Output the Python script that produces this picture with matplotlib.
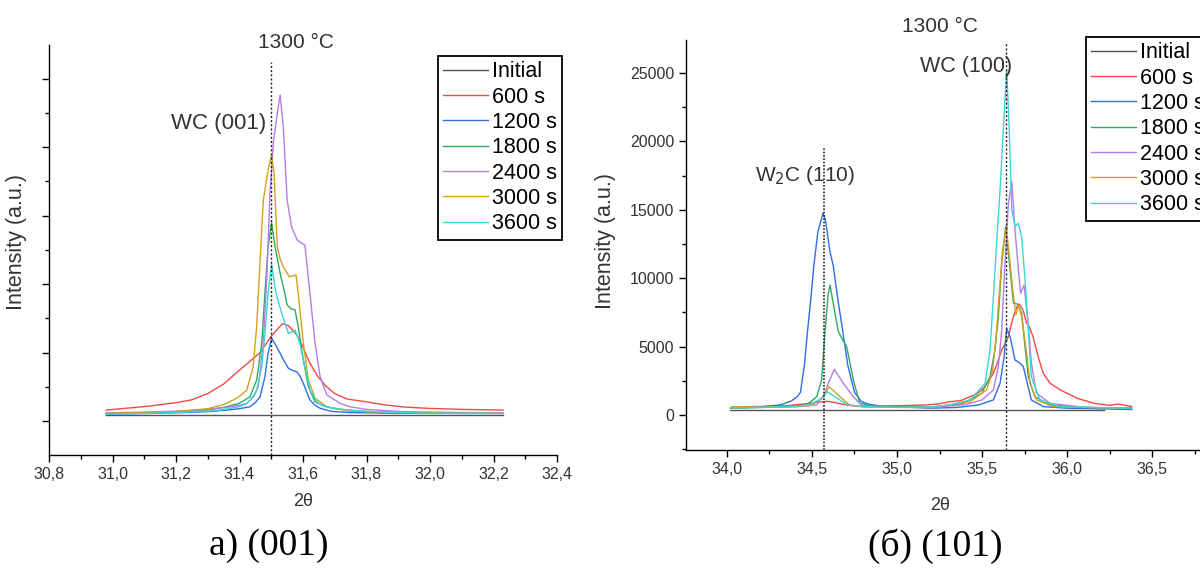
import numpy as np
import matplotlib
matplotlib.use("Agg")
import matplotlib.pyplot as plt
from matplotlib.ticker import MultipleLocator, FuncFormatter, NullFormatter

plt.rcParams['font.family'] = ['Liberation Sans', 'DejaVu Sans']

labels = ['Initial', '600 s', '1200 s', '1800 s', '2400 s', '3000 s', '3600 s']
colors = ['#555555', '#f24848', '#2f6fe0', '#2fa866', '#b57de6', '#d4a020', '#3ad6d6']

# ---- (001) peak, left panel
x001 = [
    [30.98, 32.23],
    [30.98, 31.05, 31.12, 31.20, 31.25, 31.30, 31.35, 31.40, 31.43, 31.465, 31.50, 31.535, 31.555,
     31.58, 31.60, 31.62, 31.645, 31.67, 31.70, 31.74, 31.80, 31.86, 31.92, 32.00, 32.10, 32.23],
    [30.98, 31.10, 31.20, 31.30, 31.36, 31.40, 31.433, 31.45, 31.465, 31.48, 31.49, 31.501, 31.515,
     31.528, 31.54, 31.554, 31.567, 31.58, 31.59, 31.601, 31.612, 31.622, 31.638, 31.654, 31.69,
     31.75, 31.85, 32.0, 32.23],
    [30.98, 31.10, 31.20, 31.30, 31.36, 31.40, 31.433, 31.454, 31.47, 31.48, 31.49, 31.501, 31.512,
     31.528, 31.54, 31.55, 31.562, 31.575, 31.585, 31.601, 31.617, 31.638, 31.665, 31.695, 31.75,
     31.85, 32.0, 32.23],
    [30.98, 31.10, 31.20, 31.276, 31.36, 31.40, 31.423, 31.445, 31.459, 31.475, 31.486, 31.496,
     31.507, 31.518, 31.528, 31.538, 31.55, 31.564, 31.582, 31.595, 31.606, 31.622, 31.638, 31.654,
     31.675, 31.717, 31.748, 31.80, 31.90, 32.0, 32.23],
    [30.98, 31.10, 31.20, 31.30, 31.35, 31.38, 31.40, 31.423, 31.443, 31.454, 31.465, 31.475, 31.49,
     31.501, 31.509, 31.519, 31.528, 31.538, 31.557, 31.578, 31.585, 31.601, 31.617, 31.638, 31.675,
     31.75, 31.85, 32.0, 32.23],
    [30.98, 31.10, 31.20, 31.30, 31.339, 31.40, 31.423, 31.44, 31.454, 31.47, 31.48, 31.49, 31.501,
     31.515, 31.533, 31.554, 31.565, 31.575, 31.59, 31.606, 31.622, 31.648, 31.68, 31.72, 31.80,
     31.90, 32.0, 32.23],
]
y001 = [
    [450, 450],
    [800, 950, 1100, 1340, 1550, 2000, 2700, 3720, 4300, 5000, 6200, 7100, 6950,
     6300, 5400, 4300, 3300, 2600, 2000, 1600, 1400, 1170, 1020, 920, 850, 800],
    [500, 550, 600, 680, 800, 900, 1040, 1350, 1770, 3230, 4940, 6040, 5500,
     4940, 4400, 3850, 3700, 3600, 3300, 2750, 2100, 1530, 1150, 930, 700,
     620, 580, 560, 550],
    [550, 600, 680, 800, 1040, 1300, 1770, 2990, 5670, 9320, 12720, 14480, 12720,
     10780, 9600, 8470, 8200, 8100, 6880, 4450, 2500, 1410, 1100, 930, 750,
     650, 600, 580],
    [600, 650, 720, 800, 1000, 1150, 1290, 1800, 2500, 5670, 10530, 16620,
     20400, 22300, 23800, 21480, 16130, 14180, 13210, 13000, 12850, 9320, 5670, 3230,
     1900, 1290, 1040, 850, 700, 650, 600],
    [550, 620, 700, 900, 1200, 1530, 1800, 2260, 3960, 6880, 11750, 16130, 18320,
     19420, 18080, 12720, 11800, 11260, 10530, 10660, 9320, 5670, 2990, 1660, 1040,
     730, 650, 600, 580],
    [500, 560, 620, 720, 800, 1050, 1290, 1700, 2260, 3960, 6400, 9320, 11460,
     9320, 7860, 6400, 6500, 6640, 5670, 3960, 2260, 1290, 1000, 860, 700,
     620, 580, 560],
]

# ---- (101) region, right panel
x101 = [
    [34.02, 36.22],
    [34.03, 34.2, 34.35, 34.47, 34.53, 34.586, 34.64, 34.68, 34.75, 34.82, 35.0, 35.15, 35.24,
     35.31, 35.375, 35.43, 35.47, 35.508, 35.54, 35.567, 35.59, 35.616, 35.635, 35.655, 35.68,
     35.704, 35.72, 35.74, 35.763, 35.78, 35.80, 35.83, 35.86, 35.9, 35.96, 36.06, 36.16, 36.25,
     36.3, 36.38],
    [34.02, 34.2, 34.31, 34.375, 34.41, 34.432, 34.455, 34.473, 34.493, 34.511, 34.534, 34.565,
     34.578, 34.59, 34.605, 34.625, 34.652, 34.682, 34.711, 34.75, 34.79, 34.83, 34.9, 35.0, 35.2,
     35.35, 35.48, 35.567, 35.606, 35.63, 35.645, 35.665, 35.694, 35.724, 35.743, 35.766, 35.79,
     35.86, 36.0, 36.2, 36.38],
    [34.03, 34.2, 34.35, 34.469, 34.528, 34.557, 34.576, 34.595, 34.606, 34.63, 34.655, 34.68,
     34.704, 34.743, 34.78, 34.85, 35.0, 35.2, 35.39, 35.498, 35.547, 35.576, 35.596, 35.616,
     35.639, 35.665, 35.685, 35.71, 35.733, 35.753, 35.772, 35.81, 35.9, 36.1, 36.38],
    [34.03, 34.2, 34.4, 34.528, 34.576, 34.596, 34.631, 34.684, 34.743, 34.79, 34.85, 35.0, 35.2,
     35.4, 35.5, 35.567, 35.596, 35.616, 35.635, 35.655, 35.675, 35.694, 35.714, 35.727, 35.747,
     35.772, 35.79, 35.82, 35.9, 36.1, 36.38],
    [34.03, 34.2, 34.4, 34.5, 34.567, 34.6, 34.665, 34.72, 34.8, 35.0, 35.2, 35.43, 35.527,
     35.563, 35.586, 35.606, 35.621, 35.643, 35.665, 35.685, 35.70, 35.714, 35.733, 35.76,
     35.782, 35.82, 35.92, 36.1, 36.38],
    [34.03, 34.2, 34.4, 34.48, 34.557, 34.59, 34.665, 34.71, 34.8, 35.0, 35.2, 35.31, 35.43,
     35.518, 35.547, 35.567, 35.586, 35.606, 35.625, 35.645, 35.66, 35.675, 35.695, 35.714,
     35.733, 35.753, 35.772, 35.79, 35.84, 35.96, 36.1, 36.25, 36.38],
]
y101 = [
    [360, 360],
    [600, 620, 680, 830, 920, 1000, 900, 780, 650, 600, 680, 720, 800,
     970, 1050, 1340, 1550, 1950, 2500, 3050, 3800, 4750, 5200, 5720, 7000,
     7900, 8100, 7700, 6700, 6400, 5720, 4260, 3050, 2320, 1830, 1220, 850, 700,
     800, 620],
    [500, 600, 730, 1000, 1300, 1650, 3600, 6030, 8470, 10900, 13330, 14750,
     14300, 13330, 12000, 10900, 8470, 6030, 3600, 1650, 1000, 800, 650, 600, 500,
     550, 730, 1100, 2320, 4260, 6340, 5720, 4020, 3780, 3530, 2320, 1100,
     610, 500, 450, 400],
    [500, 550, 600, 730, 1340, 2560, 5990, 8800, 9500, 7800, 6090, 5500,
     4990, 2560, 880, 650, 600, 550, 850, 1590, 2800, 4750, 7190, 11090,
     13770, 10600, 8170, 8110, 7430, 4990, 2800, 1340, 730, 550, 500],
    [550, 560, 600, 730, 1610, 2320, 3340, 2320, 1340, 730, 620, 560, 550,
     750, 1100, 1830, 3530, 6210, 11090, 15470, 17050, 13520, 10600, 8900, 9500,
     6700, 3780, 1590, 850, 560, 500],
    [600, 580, 620, 730, 1340, 2070, 1340, 730, 600, 560, 550, 970, 1830,
     3290, 6210, 9630, 12060, 13700, 11090, 8650, 7310, 8040, 7190, 4750,
     2320, 1100, 610, 550, 500],
    [500, 560, 620, 730, 1200, 1700, 1090, 730, 620, 560, 600, 730, 1100,
     2320, 4750, 8650, 12550, 16450, 20830, 25220, 20830, 14990, 13800, 14010,
     13030, 9870, 6210, 2800, 1100, 610, 560, 520, 480],
]

W, H = 1200, 568
fig = plt.figure(figsize=(W / 100, H / 100), dpi=100)

def px_box(x0, y0, x1, y1):
    return [x0 / W, 1 - y1 / H, (x1 - x0) / W, (y1 - y0) / H]

comma = FuncFormatter(lambda v, p: f"{v:.1f}".replace('.', ','))
txt = '#333333'

def style(ax):
    for s in ['top', 'right']:
        ax.spines[s].set_visible(False)
    for s in ['left', 'bottom']:
        ax.spines[s].set_linewidth(1.0)
    ax.tick_params(which='major', direction='out', length=5, width=1.0,
                   labelsize=11.5, labelcolor=txt)
    ax.tick_params(which='minor', direction='out', length=3, width=1.0)
    ax.set_xlabel('2θ', fontsize=13, color=txt, labelpad=8)
    ax.set_ylabel('Intensity (a.u.)', fontsize=15.5, color=txt)

# left panel
ax1 = fig.add_axes(px_box(49, 45, 557, 455))
for xs, ys, lab, c in zip(x001, y001, labels, colors):
    ax1.plot(xs, ys, color=c, lw=1.0, label=lab)
ax1.set_xlim(30.8, 32.4)
ax1.set_ylim(-2480, 27450)
ax1.xaxis.set_major_locator(MultipleLocator(0.2))
ax1.xaxis.set_minor_locator(MultipleLocator(0.1))
ax1.xaxis.set_major_formatter(comma)
ax1.yaxis.set_major_locator(MultipleLocator(5000))
ax1.yaxis.set_minor_locator(MultipleLocator(2500))
ax1.yaxis.set_major_formatter(NullFormatter())
style(ax1)
ax1.yaxis.set_label_coords(-0.043, 0.52)
ax1.plot([31.5, 31.5], [-2480, 26200], color='#222222', lw=1.0, ls=(0, (1.5, 1.5)))
ax1.text(31.485, 21700, 'WC (001)', fontsize=16, color=txt, ha='right', va='center')
leg_kw = dict(loc='upper left', bbox_transform=fig.transFigure, borderaxespad=0, fontsize=15.5,
              frameon=True, fancybox=False, edgecolor='black', framealpha=1, handlelength=2.05,
              handletextpad=0.2, labelspacing=0.2, borderpad=0.25)
ax1.legend(bbox_to_anchor=(438 / W, 1 - 56 / H), **leg_kw)
ax1.get_legend().get_frame().set_linewidth(1.3)

# right panel
ax2 = fig.add_axes(px_box(686, 40, 1200, 450))
for xs, ys, lab, c in zip(x101, y101, labels, colors):
    ax2.plot(xs, ys, color=c, lw=1.0, label=lab)
ax2.set_xlim(33.759, 36.782)
ax2.set_ylim(-2560, 27410)
ax2.xaxis.set_major_locator(MultipleLocator(0.5))
ax2.xaxis.set_minor_locator(MultipleLocator(0.25))
ax2.xaxis.set_major_formatter(comma)
ax2.yaxis.set_major_locator(MultipleLocator(5000))
ax2.yaxis.set_minor_locator(MultipleLocator(2500))
style(ax2)
ax2.yaxis.set_label_coords(-0.136, 0.51)
ax2.xaxis.set_label_coords((940 - 686) / (1200 - 686), -0.115)
ax2.plot([34.57, 34.57], [-2560, 19500], color='#222222', lw=1.2, ls=(0, (1, 1)))
ax2.plot([35.64, 35.64], [-2560, 27300], color='#222222', lw=1.0, ls=(0, (1.5, 1.5)))
ax2.text(34.46, 17500, 'W$_2$C (110)', fontsize=15, color=txt, ha='center', va='center')
ax2.text(35.405, 25450, 'WC (100)', fontsize=15.5, color=txt, ha='center', va='center')
ax2.legend(bbox_to_anchor=(1086 / W, 1 - 37 / H), **leg_kw)
ax2.get_legend().get_frame().set_linewidth(1.3)

fig.text(296 / W, 1 - 42 / H, '1300 °C', fontsize=15, color=txt, ha='center', va='center')
fig.text(940 / W, 1 - 27 / H, '1300 °C', fontsize=15, color=txt, ha='center', va='center')
fig.text(269 / W, 1 - 546 / H, 'а) (001)', fontsize=27, family='Liberation Serif',
         ha='center', va='center')
fig.text(935 / W, 1 - 546 / H, '(б) (101)', fontsize=27, family='Liberation Serif',
         ha='center', va='center')

fig.savefig('out.png', dpi=100)
